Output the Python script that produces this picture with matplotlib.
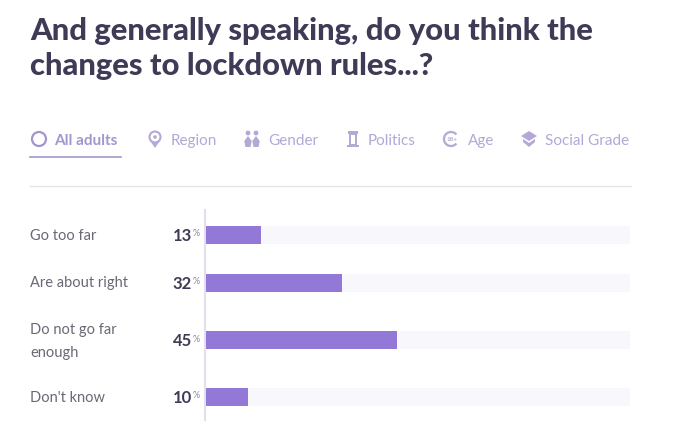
import matplotlib
matplotlib.use('Agg')
import matplotlib.pyplot as plt
import matplotlib.patches as patches

W, H = 687, 440

categories = ['Go too far', 'Are about right', 'Do not go far\nenough', "Don't know"]
values = [13, 32, 45, 10]
tab_labels = ['All adults', 'Region', 'Gender', 'Politics', 'Age', 'Social Grade']

row_y = [235, 283, 341, 397]
bar_y = [235, 283, 340, 397]
tab_x = [54, 170.5, 268, 368, 468, 545]

DARK = '#3f3b57'
GREY = '#6b6875'
TAB = '#b3a8d6'
TAB_ON = '#a396cf'
BAR = '#9279d8'
TRACK = '#f8f7fc'
FONT = ['Lato', 'DejaVu Sans']


def draw_icons(ax):
    # rough versions of the tab icons, in pixel coords
    ax.add_patch(patches.Circle((39, 139), 7, fc='none', ec=TAB_ON, lw=1.6))

    ax.add_patch(patches.Polygon([(149.5, 140), (155, 148), (160.5, 140)], fc=TAB, ec='none'))
    ax.add_patch(patches.Circle((155, 137), 5.5, fc='white', ec=TAB, lw=1.5, zorder=3))
    ax.add_patch(patches.Circle((155, 137), 1.8, fc=TAB, ec='none', zorder=4))

    for cx in (248, 256):
        ax.add_patch(patches.Circle((cx, 133), 2.4, fc=TAB, ec='none'))
        ax.add_patch(patches.Polygon([(cx, 136), (cx + 3.7, 141), (cx + 2.5, 147), (cx - 2.5, 147), (cx - 3.7, 141)],
                                     fc=TAB, ec='none'))

    ax.add_patch(patches.Rectangle((348, 131), 10, 3, fc=TAB, ec='none'))
    ax.add_patch(patches.Rectangle((350, 134), 6, 11, fc='none', ec=TAB, lw=1.4))
    ax.add_patch(patches.Rectangle((347, 145), 12, 2, fc=TAB, ec='none'))

    ax.add_patch(patches.Arc((451, 139), 14, 14, theta1=40, theta2=320, ec=TAB, lw=1.6))
    ax.text(452, 139.5, '18+', ha='center', va='center', fontsize=4.5,
            fontweight='bold', color=TAB, family=FONT)

    ax.add_patch(patches.Polygon([(529, 131), (537, 136), (529, 141), (521, 136)], fc=TAB, ec='none'))
    ax.add_patch(patches.Polygon([(523, 139), (529, 143), (535, 139), (535, 142), (529, 147), (523, 142)],
                                 fc=TAB, ec='none'))


def generate_chart():
    fig = plt.figure(figsize=(W / 100, H / 100), dpi=100, facecolor='white')

    # page layer in pixel coords for the heading, tabs and labels
    page = fig.add_axes([0, 0, 1, 1])
    page.set_xlim(0, W)
    page.set_ylim(H, 0)
    page.axis('off')

    page.text(30, 31, 'And generally speaking, do you think the', fontsize=22.3, fontweight='black',
              color=DARK, va='center', ha='left', family=FONT)
    page.text(30, 66, 'changes to lockdown rules...?', fontsize=22.3, fontweight='black',
              color=DARK, va='center', ha='left', family=FONT)

    for i, (x, label) in enumerate(zip(tab_x, tab_labels)):
        page.text(x, 139.5, label, fontsize=11, color=TAB_ON if i == 0 else TAB,
                  fontweight='bold' if i == 0 else 'normal', va='center_baseline', ha='left', family=FONT)
    draw_icons(page)
    page.plot([30, 121], [157.5, 157.5], color=TAB_ON, lw=1.2)
    page.plot([30, 631], [186.5, 186.5], color='#e4e3e8', lw=1)

    for y, cat in zip(row_y, categories):
        page.text(30, y + 0.5, cat, fontsize=10.5, color=GREY, va='center', ha='left',
                  linespacing=1.85, family=FONT)
    for y, val in zip(bar_y, values):
        page.text(192, y + 1, str(val), fontsize=12, fontweight='bold', color=DARK,
                  va='center', ha='right', family=FONT)
        page.text(193, y - 1, '%', fontsize=6.5, color='#8a8795', va='center', ha='left', family=FONT)
    page.plot([205, 205], [210, 420], color='#e2e0ec', lw=1.5)

    # bars, 0-100 across the track
    ax = fig.add_axes([206 / W, 1 - 420 / H, 424 / W, 210 / H])
    ax.set_xlim(0, 100)
    ax.set_ylim(420, 210)
    ax.patch.set_alpha(0)
    ax.barh(bar_y, [100] * len(values), height=18, color=TRACK, zorder=1)
    ax.barh(bar_y, values, height=18, color=BAR, zorder=2)
    ax.axis('off')

    fig.savefig('out.png', dpi=100, facecolor='white')
    plt.close(fig)


if __name__ == '__main__':
    generate_chart()
